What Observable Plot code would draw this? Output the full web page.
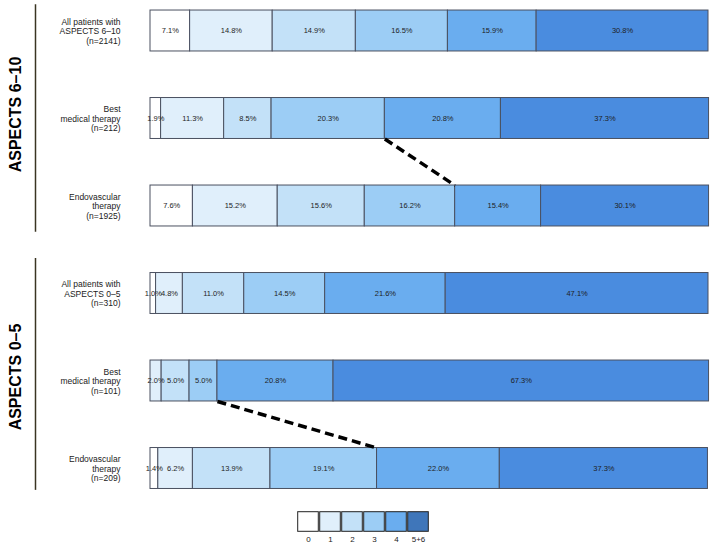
<!DOCTYPE html>
<html>
<head>
<meta charset="utf-8">
<script src="https://cdn.jsdelivr.net/npm/d3@7"></script>
<script src="https://cdn.jsdelivr.net/npm/@observablehq/plot@0.6"></script>
<style>
  html, body { margin: 0; padding: 0; background: #fff; }
  #chart svg { display: block; }
</style>
</head>
<body>
<div id="chart"></div>
<script>
// ---- data ----
const categories = ["0", "1", "2", "3", "4", "5+6"];
const groupLabels = [
  "All patients with\nASPECTS 6–10\n(n=2141)",
  "Best\nmedical therapy\n(n=212)",
  "Endovascular\ntherapy\n(n=1925)",
  "All patients with\nASPECTS 0–5\n(n=310)",
  "Best\nmedical therapy\n(n=101)",
  "Endovascular\ntherapy\n(n=209)"
];
const allHigh = [7.1, 14.8, 14.9, 16.5, 15.9, 30.8];
const bmtHigh = [1.9, 11.3, 8.5, 20.3, 20.8, 37.3];
const evtHigh = [7.6, 15.2, 15.6, 16.2, 15.4, 30.1];
const allLow  = [1.0, 4.8, 11.0, 14.5, 21.6, 47.1];
const bmtLow  = [0.0, 2.0, 5.0, 5.0, 20.8, 67.3];
const evtLow  = [1.4, 6.2, 13.9, 19.1, 22.0, 37.3];
const seriesByRow = [allHigh, bmtHigh, evtHigh, allLow, bmtLow, evtLow];
const groupTitles = ["ASPECTS 6–10", "ASPECTS 0–5"];
const groupRows = [[0, 1, 2], [3, 4, 5]];
const barColors = ["#ffffff", "#e0effb", "#c3e1f8", "#9ccdf5", "#6aadef", "#4a8cdf"];
const legendColors = ["#ffffff", "#e0effb", "#c3e1f8", "#9ccdf5", "#6aadef", "#3f76ba"];
// dashed connectors: [upper row, lower row], boundary after category "3"
const connectors = [[1, 2], [4, 5]];

// ---- derived table ----
const data = seriesByRow.flatMap((vals, row) =>
  vals.map((value, i) => ({row, cat: categories[i], value})));
const upTo3 = (row) => d3.sum(seriesByRow[row].slice(0, 4));
const links = connectors.map(([a, b]) => ({a, b, xa: upTo3(a), xb: upTo3(b)}));
const titles = groupTitles.map((t, i) => ({
  text: t, rows: groupRows[i], mid: d3.mean(groupRows[i])
}));

const half = 0.234; // half bar thickness in row units
const font = "Liberation Sans, Arial, Helvetica, sans-serif";

const main = Plot.plot({
  width: 711,
  height: 500,
  marginLeft: 150,
  marginRight: 3,
  marginTop: 0,
  marginBottom: 0,
  style: {fontFamily: font, background: "#fff"},
  x: {domain: [0, 100], axis: null},
  y: {domain: [0, 5], range: [30.5, 468], axis: null},
  color: {domain: categories, range: barColors},
  marks: [
    Plot.rectX(data, Plot.stackX({
      x: "value",
      y1: d => d.row - half,
      y2: d => d.row + half,
      fill: "cat",
      stroke: "#4a5060",
      strokeWidth: 1
    })),
    Plot.text(data, Plot.stackX({
      x: "value",
      y: "row",
      text: d => d.value > 0 ? d.value.toFixed(1) + "%" : "",
      fontSize: 7.5,
      fill: "#1e1e1e"
    })),
    Plot.link(links, {
      x1: "xa", y1: d => d.a + half,
      x2: "xb", y2: d => d.b - half,
      stroke: "#000",
      strokeWidth: 3.5,
      strokeDasharray: "9,5"
    }),
    Plot.axisY({
      ticks: d3.range(groupLabels.length),
      tickFormat: i => groupLabels[i],
      tickSize: 0,
      tickPadding: 30,
      fontSize: 8.5,
      lineHeight: 1.12,
      fill: "#222"
    }),
    Plot.ruleX(titles, {
      x: 0, dx: -115,
      y1: d => d.rows[0] - (d.rows[0] === 0 ? 0.3 : 0.4),
      y2: d => d.rows[d.rows.length - 1] + (d.rows[0] === 0 ? 0.3 : 0.25),
      stroke: "#3a3422",
      strokeWidth: 1.5
    }),
    Plot.text(titles, {
      x: 0, dx: -135,
      y: "mid", dy: -4,
      text: "text",
      rotate: -90,
      fontSize: 16,
      fontWeight: "bold",
      fill: "#000"
    })
  ]
});

const legend = Plot.plot({
  width: 711,
  height: 48,
  marginLeft: 296,
  marginRight: 282,
  marginTop: 11,
  marginBottom: 16,
  style: {fontFamily: font, background: "#fff"},
  x: {type: "band", domain: categories, padding: 0},
  color: {domain: categories, range: legendColors},
  marks: [
    Plot.cell(categories, {
      x: d => d,
      fill: d => d,
      stroke: "#222",
      strokeWidth: 1,
      inset: 0.7
    }),
    Plot.axisX({tickSize: 0, tickPadding: 4, fontSize: 8, fill: "#222"})
  ]
});

const el = document.getElementById("chart");
el.appendChild(main);
el.appendChild(legend);
</script>
</body>
</html>
